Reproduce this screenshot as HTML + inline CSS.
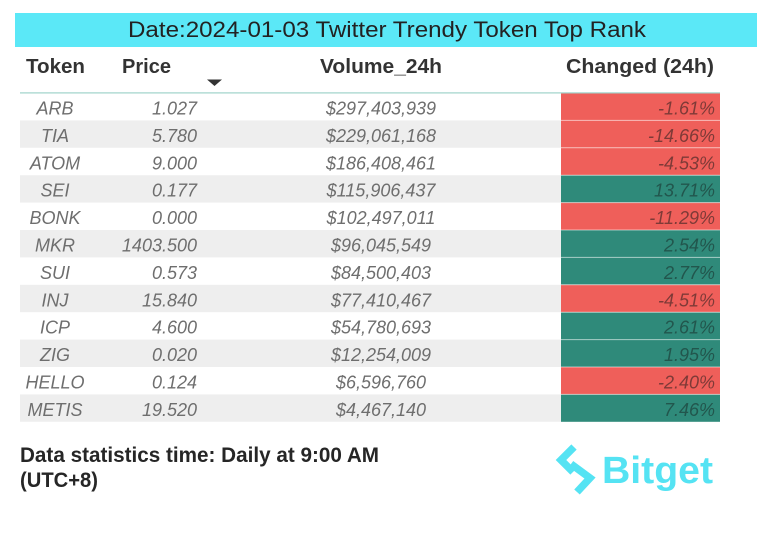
<!DOCTYPE html>
<html><head><meta charset="utf-8"><style>
html,body{margin:0;padding:0;background:#fff;}
svg{display:block;}
.h{font-family:"Liberation Sans",sans-serif;font-weight:bold;font-size:20px;fill:#333;}
.r{font-family:"Liberation Sans",sans-serif;font-style:italic;font-size:18px;fill:#6e6e6e;}
.c{font-family:"Liberation Sans",sans-serif;font-style:italic;font-size:18px;}
</style></head><body>
<svg width="764" height="536" viewBox="0 0 764 536" xmlns="http://www.w3.org/2000/svg">
<rect width="764" height="536" fill="#fff"/>
<!-- title -->
<rect x="15" y="13" width="742" height="34" fill="#5be8f7"/>
<text x="128" y="37" font-family="Liberation Sans, sans-serif" font-size="22" fill="#222" textLength="518" lengthAdjust="spacingAndGlyphs">Date:2024-01-03 Twitter Trendy Token Top Rank</text>
<!-- headers -->
<text class="h" x="26" y="73" textLength="59" lengthAdjust="spacingAndGlyphs">Token</text>
<text class="h" x="122" y="73" textLength="49" lengthAdjust="spacingAndGlyphs">Price</text>
<text class="h" x="320" y="73" textLength="122" lengthAdjust="spacingAndGlyphs">Volume_24h</text>
<text class="h" x="566" y="73" textLength="148" lengthAdjust="spacingAndGlyphs">Changed (24h)</text>
<polygon points="207,79.5 222,79.5 214.5,86" fill="#333"/>
<!-- row backgrounds -->
<g fill="#eeeeee">
<rect x="20" y="120.4" width="541" height="27.4"/>
<rect x="20" y="175.2" width="541" height="27.4"/>
<rect x="20" y="230" width="541" height="27.4"/>
<rect x="20" y="284.8" width="541" height="27.4"/>
<rect x="20" y="339.6" width="541" height="27.4"/>
<rect x="20" y="394.4" width="541" height="27.4"/>
</g>
<!-- colored cells -->
<g>
<rect x="561" y="93" width="159" height="27.4" fill="#ef5f5a"/>
<rect x="561" y="120.4" width="159" height="27.4" fill="#ef5f5a"/>
<rect x="561" y="147.8" width="159" height="27.4" fill="#ef5f5a"/>
<rect x="561" y="175.2" width="159" height="27.4" fill="#2f8a7a"/>
<rect x="561" y="202.6" width="159" height="27.4" fill="#ef5f5a"/>
<rect x="561" y="230" width="159" height="27.4" fill="#2f8a7a"/>
<rect x="561" y="257.4" width="159" height="27.4" fill="#2f8a7a"/>
<rect x="561" y="284.8" width="159" height="27.4" fill="#ef5f5a"/>
<rect x="561" y="312.2" width="159" height="27.4" fill="#2f8a7a"/>
<rect x="561" y="339.6" width="159" height="27.4" fill="#2f8a7a"/>
<rect x="561" y="367" width="159" height="27.4" fill="#ef5f5a"/>
<rect x="561" y="394.4" width="159" height="27.4" fill="#2f8a7a"/>
</g>
<g stroke="#ffffff" stroke-opacity="0.55" stroke-width="1">
<line x1="561" x2="720" y1="120.4" y2="120.4"/>
<line x1="561" x2="720" y1="147.8" y2="147.8"/>
<line x1="561" x2="720" y1="175.2" y2="175.2"/>
<line x1="561" x2="720" y1="202.6" y2="202.6"/>
<line x1="561" x2="720" y1="230" y2="230"/>
<line x1="561" x2="720" y1="257.4" y2="257.4"/>
<line x1="561" x2="720" y1="284.8" y2="284.8"/>
<line x1="561" x2="720" y1="312.2" y2="312.2"/>
<line x1="561" x2="720" y1="339.6" y2="339.6"/>
<line x1="561" x2="720" y1="367" y2="367"/>
<line x1="561" x2="720" y1="394.4" y2="394.4"/>
</g>
<!-- header line -->
<rect x="20" y="92.3" width="700" height="1.2" fill="#9fd3ca"/>
<!-- token column -->
<g text-anchor="middle">
<text class="r" x="55" y="114.5">ARB</text>
<text class="r" x="55" y="141.9">TIA</text>
<text class="r" x="55" y="169.3">ATOM</text>
<text class="r" x="55" y="196.7">SEI</text>
<text class="r" x="55" y="224.1">BONK</text>
<text class="r" x="55" y="251.5">MKR</text>
<text class="r" x="55" y="278.9">SUI</text>
<text class="r" x="55" y="306.3">INJ</text>
<text class="r" x="55" y="333.7">ICP</text>
<text class="r" x="55" y="361.1">ZIG</text>
<text class="r" x="55" y="388.5">HELLO</text>
<text class="r" x="55" y="415.9">METIS</text>
</g>
<!-- price -->
<g text-anchor="end">
<text class="r" x="197" y="114.5">1.027</text>
<text class="r" x="197" y="141.9">5.780</text>
<text class="r" x="197" y="169.3">9.000</text>
<text class="r" x="197" y="196.7">0.177</text>
<text class="r" x="197" y="224.1">0.000</text>
<text class="r" x="197" y="251.5">1403.500</text>
<text class="r" x="197" y="278.9">0.573</text>
<text class="r" x="197" y="306.3">15.840</text>
<text class="r" x="197" y="333.7">4.600</text>
<text class="r" x="197" y="361.1">0.020</text>
<text class="r" x="197" y="388.5">0.124</text>
<text class="r" x="197" y="415.9">19.520</text>
</g>
<!-- volume -->
<g text-anchor="middle">
<text class="r" x="381" y="114.5">$297,403,939</text>
<text class="r" x="381" y="141.9">$229,061,168</text>
<text class="r" x="381" y="169.3">$186,408,461</text>
<text class="r" x="381" y="196.7">$115,906,437</text>
<text class="r" x="381" y="224.1">$102,497,011</text>
<text class="r" x="381" y="251.5">$96,045,549</text>
<text class="r" x="381" y="278.9">$84,500,403</text>
<text class="r" x="381" y="306.3">$77,410,467</text>
<text class="r" x="381" y="333.7">$54,780,693</text>
<text class="r" x="381" y="361.1">$12,254,009</text>
<text class="r" x="381" y="388.5">$6,596,760</text>
<text class="r" x="381" y="415.9">$4,467,140</text>
</g>
<!-- changed -->
<g text-anchor="end">
<text class="c" fill="#7e3a37" x="715" y="114.5">-1.61%</text>
<text class="c" fill="#7e3a37" x="715" y="141.9">-14.66%</text>
<text class="c" fill="#7e3a37" x="715" y="169.3">-4.53%</text>
<text class="c" fill="#22564d" x="715" y="196.7">13.71%</text>
<text class="c" fill="#7e3a37" x="715" y="224.1">-11.29%</text>
<text class="c" fill="#22564d" x="715" y="251.5">2.54%</text>
<text class="c" fill="#22564d" x="715" y="278.9">2.77%</text>
<text class="c" fill="#7e3a37" x="715" y="306.3">-4.51%</text>
<text class="c" fill="#22564d" x="715" y="333.7">2.61%</text>
<text class="c" fill="#22564d" x="715" y="361.1">1.95%</text>
<text class="c" fill="#7e3a37" x="715" y="388.5">-2.40%</text>
<text class="c" fill="#22564d" x="715" y="415.9">7.46%</text>
</g>
<!-- footer -->
<text x="20" y="462" font-family="Liberation Sans, sans-serif" font-weight="bold" font-size="21" fill="#262626" textLength="359" lengthAdjust="spacingAndGlyphs">Data statistics time: Daily at 9:00 AM</text>
<text x="20" y="487" font-family="Liberation Sans, sans-serif" font-weight="bold" font-size="21" fill="#262626" textLength="78" lengthAdjust="spacingAndGlyphs">(UTC+8)</text>
<!-- Bitget logo -->
<g fill="none" stroke="#55e3f3" stroke-width="7.5" stroke-linejoin="miter" stroke-linecap="butt">
<polyline points="574,447 561,460 573,472"/>
<polyline points="571,464 590,478 577,492"/>
</g>
<text x="602" y="483" font-family="Liberation Sans, sans-serif" font-weight="bold" font-size="38" fill="#55e3f3" textLength="111" lengthAdjust="spacingAndGlyphs">Bitget</text>
</svg>
</body></html>
